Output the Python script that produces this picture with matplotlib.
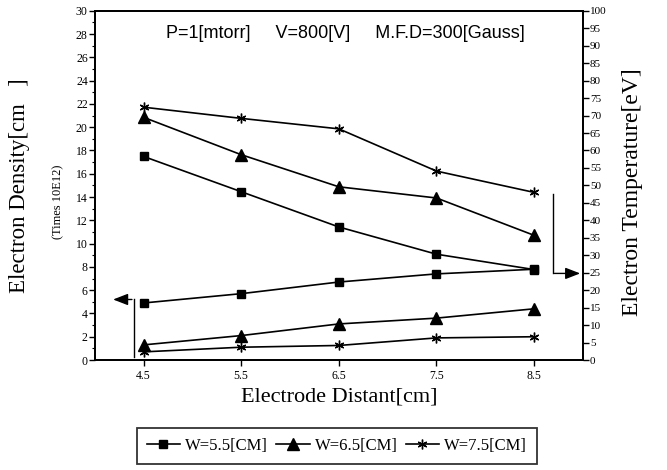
import numpy as np
import matplotlib
matplotlib.use("Agg")
import matplotlib.pyplot as plt
from matplotlib.ticker import MultipleLocator

# data
distance = [4.5, 5.5, 6.5, 7.5, 8.5]
labels = ["W=5.5[CM]", "W=6.5[CM]", "W=7.5[CM]"]

# electron density (x 10^12 cm^-3), left axis
dens_55 = [4.9, 5.7, 6.7, 7.4, 7.8]
dens_65 = [1.3, 2.1, 3.1, 3.6, 4.4]
dens_75 = [0.7, 1.1, 1.25, 1.9, 2.0]

# electron temperature (eV), right axis
temp_55 = [58.3, 48.2, 38.1, 30.3, 25.9]
temp_65 = [69.5, 58.8, 49.6, 46.4, 35.7]
temp_75 = [72.4, 69.2, 66.2, 54.1, 48.0]

plt.rcParams['font.family'] = ['Liberation Serif', 'DejaVu Serif']

fig = plt.figure(figsize=(6.67, 4.70), dpi=100)
ax = fig.add_axes([0.142, 0.234, 0.732, 0.743])
ax2 = ax.twinx()

# marker styles for the three widths
styles = [dict(marker='s', ms=6), dict(marker='^', ms=8), dict(marker=(6, 2, 0), ms=7, mew=1.0)]

handles = []
for d, t, lab, st in zip([dens_55, dens_65, dens_75], [temp_55, temp_65, temp_75], labels, styles):
    h, = ax.plot(distance, d, color='black', lw=1.2, label=lab, **st)
    ax2.plot(distance, t, color='black', lw=1.2, **st)
    handles.append(h)

ax.set_xlim(4.0, 9.0)
ax.set_ylim(0, 30)
ax2.set_ylim(0, 100)
ax.set_xticks(distance)
ax.set_xticklabels([str(v) for v in distance])
ax.yaxis.set_major_locator(MultipleLocator(2))
ax.yaxis.set_minor_locator(MultipleLocator(1))
ax2.yaxis.set_major_locator(MultipleLocator(5))

for a in (ax, ax2):
    for s in a.spines.values():
        s.set_linewidth(1.3)
ax.tick_params(axis='both', direction='out', labelsize=8.5, length=4, width=1)
ax.tick_params(axis='y', which='minor', length=2.5, width=0.8)
ax.tick_params(axis='y', pad=1)
ax2.tick_params(axis='y', direction='out', labelsize=8, length=4, width=1, pad=1)

ax.set_xlabel("Electrode Distant[cm]", fontsize=16, labelpad=4)
ax.set_ylabel("Electron Density[cm   ]", fontsize=16.5)
ax.yaxis.set_label_coords(-0.133, 0.5)
ax2.set_ylabel("Electron Temperature[eV]", fontsize=17)
ax2.yaxis.set_label_coords(1.08, 0.48)
fig.text(0.087, 0.57, "(Times 10E12)", rotation=90, fontsize=9, ha='center', va='center')

ax.text(0.513, 0.935, "P=1[mtorr]     V=800[V]     M.F.D=300[Gauss]",
        transform=ax.transAxes, ha='center', va='center', fontsize=13,
        family=['Liberation Sans', 'DejaVu Sans'])

# bracket arrows pointing each group to its axis
ax.plot([4.4, 4.4], [0.3, 5.2], color='black', lw=1)
ax.annotate("", xy=(4.16, 5.2), xytext=(4.41, 5.2),
            arrowprops=dict(arrowstyle='-|>,head_length=0.9,head_width=0.35', color='black', lw=1))
ax2.plot([8.69, 8.69], [47.4, 24.8], color='black', lw=1)
ax2.annotate("", xy=(9.0, 24.8), xytext=(8.68, 24.8),
             arrowprops=dict(arrowstyle='-|>,head_length=0.9,head_width=0.35', color='black', lw=1))

leg = fig.legend(handles=handles, loc='center', bbox_to_anchor=(0.505, 0.051), ncol=3,
                 fontsize=12, frameon=True, fancybox=False, edgecolor='black',
                 handlelength=2.0, handletextpad=0.3, columnspacing=0.5, borderpad=0.6)
leg.get_frame().set_linewidth(1.3)

fig.savefig("out.png", dpi=100)
